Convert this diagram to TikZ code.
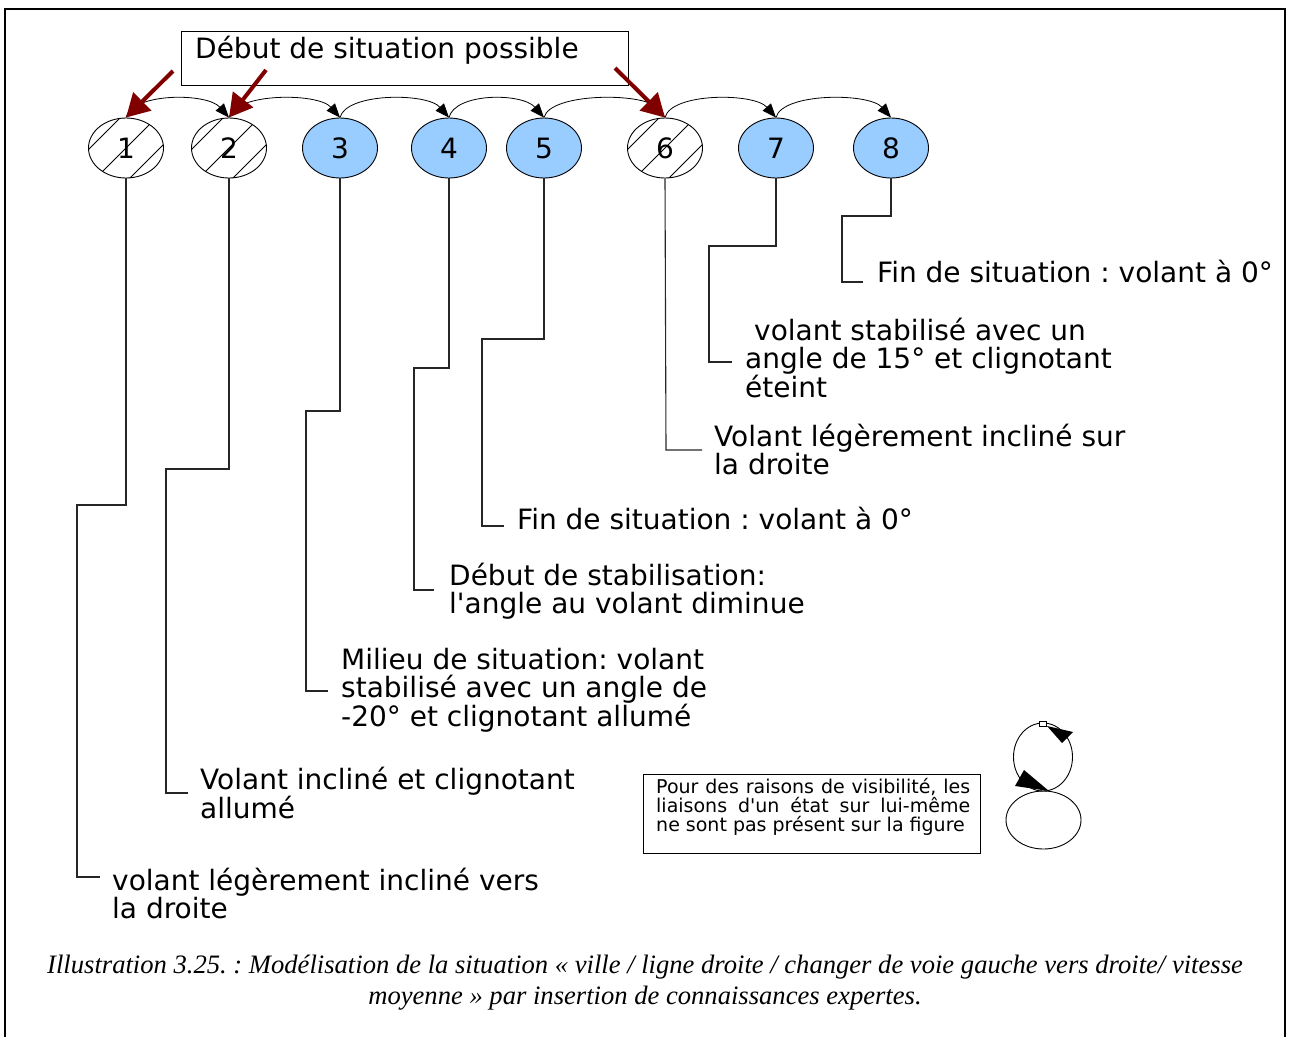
\documentclass[tikz,border=0pt]{standalone}
\usepackage{fontspec}
\setmainfont{DejaVu Sans}[Ligatures=TeXOff]
\newfontfamily\capfont{Liberation Serif}
\usetikzlibrary{shapes.geometric,arrows.meta,calc}
\definecolor{stateblue}{HTML}{99CCFF}
\definecolor{darkred}{HTML}{800000}
\frenchspacing
\begin{document}
\begin{tikzpicture}[x=1pt,y=-1pt,
  state/.style={ellipse,draw,line width=0.9pt,minimum width=75pt,minimum height=60pt,inner sep=0pt,font=\fontsize{28}{28}\selectfont},
  bluestate/.style={state,fill=stateblue},
  hatched/.style={state,path picture={\foreach \c in {-36,0,34}{\draw[line width=0.8pt] (path picture bounding box.center) ++(\c-50,50) -- ++(100,-100);}}},
  trans/.style={line width=0.8pt,-{Triangle[length=14pt,width=11pt]}},
  redarr/.style={darkred,line width=4pt,-{Triangle[length=23pt,width=25pt]}},
  conn/.style={line width=1.1pt,black!85},
  lbl/.style={anchor=west,inner sep=0pt,align=left,font=\fontsize{28}{28}\selectfont},
  boxstyle/.style={draw,line width=0.9pt,inner sep=0pt},
]
\useasboundingbox (0,0) rectangle (1290,1036);
\draw[line width=2.5pt] (5,9) rectangle (1285,1050);

% top box
\node[boxstyle,minimum width=447pt,minimum height=54pt,anchor=north west] (topbox) at (181,31) {};
\node[lbl] (toptext) at (195,50) {Début de situation possible};

% states
\node[hatched] (n1) at (126,148) {1};
\node[hatched] (n2) at (229,148) {2};
\node[bluestate] (n3) at (340,148) {3};
\node[bluestate] (n4) at (449,148) {4};
\node[bluestate] (n5) at (544,148) {5};
\node[hatched] (n6) at (665,148) {6};
\node[bluestate] (n7) at (776,148) {7};
\node[bluestate] (n8) at (891,148) {8};

% transitions
\foreach \a/\b in {n1/n2,n2/n3,n3/n4,n4/n5,n5/n6,n6/n7,n7/n8}{
  \draw[trans] (\a.north) .. controls +(6,-25) and +(-22,-25) .. (\b.north);
}

% red arrows
\coordinate (r1) at (173,71);
\coordinate (r2) at (266,70);
\coordinate (r3) at (615,68);
\draw[redarr] (r1) -- (n1.north);
\draw[redarr] (r2) -- (n2.north);
\draw[redarr] (r3) -- (n6.north);

% connector ends
\coordinate (e1) at (100,877);
\coordinate (e2) at (188,793);
\coordinate (e3) at (328,691);
\coordinate (e4) at (434,590);
\coordinate (e5) at (504,526);
\coordinate (e6) at (702,450);
\coordinate (e7) at (732,362);
\coordinate (e8) at (863,282);

\draw[conn] (n1.south) -- (126,505) -- (77,505) -- (77,877) -- (e1);
\draw[conn] (n2.south) -- (229,469) -- (166,469) -- (166,793) -- (e2);
\draw[conn] (n3.south) -- (340,411) -- (306,411) -- (306,691) -- (e3);
\draw[conn] (n4.south) -- (449,368) -- (414,368) -- (414,590) -- (e4);
\draw[conn] (n5.south) -- (544,339) -- (482,339) -- (482,526) -- (e5);
\draw[conn] (n6.south) -- (666,450) -- (e6);
\draw[conn] (n7.south) -- (776,246) -- (709,246) -- (709,362) -- (e7);
\draw[conn] (n8.south) -- (891,216) -- (842,216) -- (842,282) -- (e8);

% labels
\node[lbl] (l8) at (877,271) {Fin de situation : volant à 0°};
\node[lbl] (l7) at (745,358) {\hspace*{9pt}volant stabilisé avec un\\angle de 15° et clignotant\\éteint};
\node[lbl] (l6) at (714,449) {Volant légèrement incliné sur\\la droite};
\node[lbl] (l5) at (517,518) {Fin de situation : volant à 0°};
\node[lbl] (l4) at (449,591) {Début de stabilisation:\\l'angle au volant diminue};
\node[lbl] (l3) at (341,690) {Milieu de situation: volant\\stabilisé avec un angle de\\-20° et clignotant allumé};
\node[lbl] (l2) at (200,793) {Volant incliné et clignotant\\allumé};
\node[lbl] (l1) at (112,893) {volant légèrement incliné vers\\la droite};

% note
\node[boxstyle,minimum width=337pt,minimum height=79pt,anchor=north west] (notebox) at (643,774) {};
\node[anchor=north west,inner sep=0pt,text width=314pt,align=justify,font=\fontsize{19}{19.2}\selectfont] (note) at (656,778) {Pour des raisons de visibilité, les\linebreak liaisons d'un état sur lui-même\linebreak ne sont pas présent sur la figure};

% self-loop illustration
\node[ellipse,draw,line width=0.9pt,minimum width=75pt,minimum height=58pt,inner sep=0pt] (loopstate) at (1043.5,820) {};
\draw[line width=0.9pt] (1043,757) ellipse [x radius=29.5, y radius=34];
\node[draw,fill=white,line width=0.6pt,minimum width=7pt,minimum height=5pt,inner sep=0pt] (loopmark) at (1043,724) {};
\fill (1047,726) -- (1073,732) -- (1062,743) -- cycle;
\fill (1015,786) -- (1024,770) -- (1049,791) -- cycle;

% caption
\node[align=center,inner sep=0pt,font=\capfont\itshape\fontsize{26.6}{31}\selectfont] (caption) at (645,983) {Illustration 3.25. : Modélisation de la situation « ville / ligne droite / changer de voie gauche vers droite/ vitesse\\moyenne » par insertion de connaissances expertes.};
\end{tikzpicture}
\end{document}
